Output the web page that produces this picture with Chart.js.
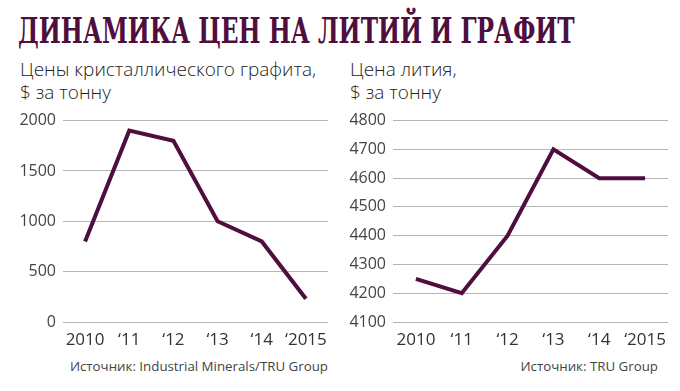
<!DOCTYPE html>
<html lang="ru">
<head>
<meta charset="UTF-8" />
<title>Динамика цен на литий и графит</title>
<script src="https://cdn.jsdelivr.net/npm/chart.js"></script>
<style>
  body { margin: 0; width: 680px; height: 391px; background: #fff; position: relative; overflow: hidden; font-family: 'Open Sans', sans-serif; }
  .titulo { position: absolute; left: 18px; top: 10px; margin: 0; font-family: 'DejaVu Serif', serif; font-weight: bold; font-size: 35px; line-height: 42px; color: #4f0f3e; white-space: nowrap; transform-origin: 0 0; }
  .sub { position: absolute; top: 58px; font-size: 19px; line-height: 23px; color: #222; font-weight: 300; }
  .fuente { position: absolute; top: 357px; font-size: 13.3px; color: #444; text-align: right; white-space: nowrap; }
  .caja { position: absolute; top: 104px; width: 340px; height: 246px; }
</style>
</head>
<body>
<h1 class="titulo" id="titulo">ДИНАМИКА ЦЕН НА ЛИТИЙ И ГРАФИТ</h1>
<div class="sub" style="left:20px">Цены кристаллического графита,<br>$ за тонну</div>
<div class="sub" style="left:350px">Цена лития,<br>$ за тонну</div>
<div class="caja" style="left:0"><canvas id="grafito"></canvas></div>
<div class="caja" style="left:340px"><canvas id="litio"></canvas></div>
<div class="fuente" style="right:352px">Источник: Industrial Minerals/TRU Group</div>
<div class="fuente" style="right:22px">Источник: TRU Group</div>

<script>
const years = ['2010', '\u201811', '\u201812', '\u201813', '\u201814', '\u20182015'];
const graphite = [800, 1900, 1800, 1000, 800, 230];
const lithium = [4250, 4200, 4400, 4700, 4600, 4600];
const graphiteTicks = [0, 500, 1000, 1500, 2000];
const lithiumTicks = [4100, 4200, 4300, 4400, 4500, 4600, 4700, 4800];

// ajustar el ancho del titulo al de la imagen
const titulo = document.getElementById('titulo');
titulo.style.transform = `scaleX(${557 / titulo.scrollWidth})`;

const morado = '#4f0f3e';
const gris = '#b5b5b5';
const fuenteTicks = { family: "'Open Sans', sans-serif", size: 16 };

function crearGrafico(id, data, ticks, axisWidth) {
  new Chart(document.getElementById(id), {
    type: 'line',
    data: {
      labels: years,
      datasets: [{
        data: data,
        borderColor: morado,
        borderWidth: 4,
        pointRadius: 0,
        tension: 0,
        borderJoinStyle: 'miter',
        fill: false
      }]
    },
    options: {
      responsive: true,
      maintainAspectRatio: false,
      animation: false,
      layout: { padding: { top: 5, right: 12, bottom: 0, left: 0 } },
      plugins: { legend: { display: false }, tooltip: { enabled: false } },
      scales: {
        x: {
          offset: true,
          grid: { display: false },
          border: { display: false },
          ticks: { color: '#333', font: { family: "'Open Sans', sans-serif", size: 17 }, padding: 0, maxRotation: 0, autoSkip: false },
          afterFit: (s) => { s.height = 28; }
        },
        y: {
          min: ticks[0],
          max: ticks[ticks.length - 1],
          afterBuildTicks: (s) => { s.ticks = ticks.map(v => ({ value: v })); },
          grid: { color: gris, lineWidth: 1, drawTicks: false },
          border: { display: false },
          ticks: { color: '#444', font: fuenteTicks, padding: 7, callback: (v) => String(v) },
          afterFit: (s) => { s.width = axisWidth; }
        }
      }
    }
  });
}

crearGrafico('grafito', graphite, graphiteTicks, 63);
crearGrafico('litio', lithium, lithiumTicks, 53);
</script>
</body>
</html>
